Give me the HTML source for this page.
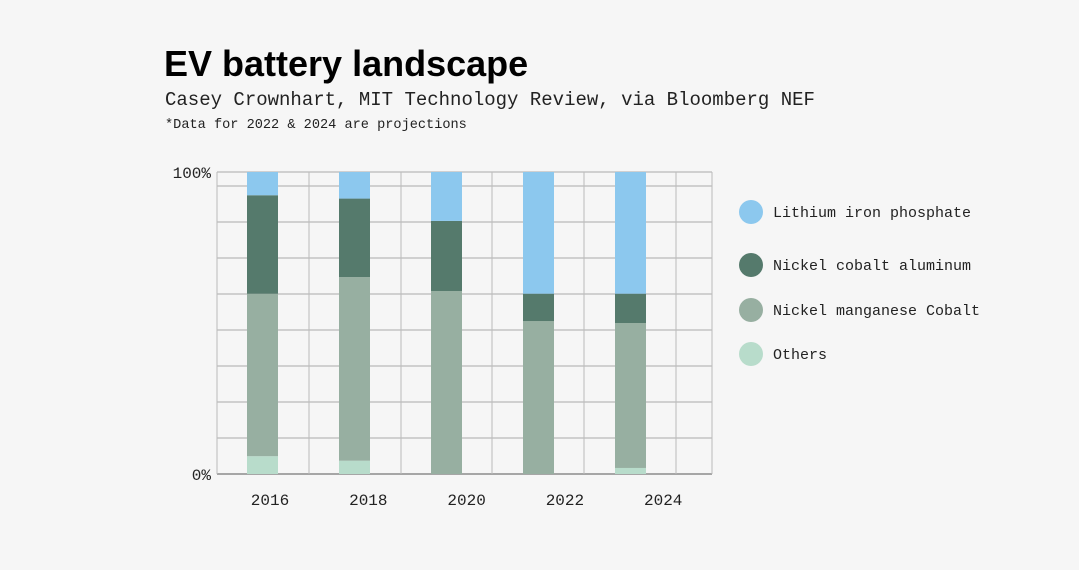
<!DOCTYPE html>
<html><head><meta charset="utf-8"><style>
body{margin:0;background:#f6f6f6;}
svg{display:block;}
.mono{font-family:"Liberation Mono",monospace;}
</style></head><body>
<svg width="1079" height="570" xmlns="http://www.w3.org/2000/svg">
<rect width="1079" height="570" fill="#f6f6f6"/>
<text x="164" y="76" font-family="Liberation Sans, sans-serif" font-weight="bold" font-size="36" fill="#000">EV battery landscape</text>
<text x="165" y="105" class="mono" font-size="19" fill="#222">Casey Crownhart, MIT Technology Review, via Bloomberg NEF</text>
<text x="165" y="128" class="mono" font-size="13.6" fill="#222">*Data for 2022 &amp; 2024 are projections</text>
<g id="grid"></g>
<g id="bars"></g>
<g id="xlabels"></g>
<text x="211" y="178" text-anchor="end" class="mono" font-size="16" fill="#222">100%</text>
<text x="211" y="480" text-anchor="end" class="mono" font-size="16" fill="#222">0%</text>
<g id="legend"></g>
</svg>
<script>
const categories=["2016","2018","2020","2022","2024"];
const others=[5.9,4.4,0,0,2];
const nmc=[53.8,60.8,60.6,50.6,48];
const nca=[32.6,26,23.2,9.1,9.7];
const lfp=[7.7,8.8,16.2,40.3,40.3];
const seriesNames=["Lithium iron phosphate","Nickel cobalt aluminum","Nickel manganese Cobalt","Others"];
const NS="http://www.w3.org/2000/svg";
const y0=474,y1=172,left=217,right=712;
function y(v){return y0-(v/100)*(y0-y1);}
function bx(i){return 247+i*92;}
function mk(t,a){const e=document.createElementNS(NS,t);for(const k in a)e.setAttribute(k,a[k]);return e;}
const grid=document.getElementById('grid');
[172,186,222,258,294,330,366,402,438,474].forEach(gy=>{
 const l=mk('line',{x1:left,x2:right,y1:gy,y2:gy,stroke:gy==474?'#555':'#aaa','stroke-width':1});
 
 
 grid.appendChild(l);});
[217,309,401,492,584,676,712].forEach(gx=>{
 const l=mk('line',{x1:gx,x2:gx,y1:172,y2:474,stroke:'#bbb','stroke-width':1});
 
 
 grid.appendChild(l);});
const bars=document.getElementById('bars');
const stack=[[others,'#b8dccb','others'],[nmc,'#97afa1','nmc'],[nca,'#557a6c','nca'],[lfp,'#8cc8ee','lfp']];
categories.forEach((c,i)=>{
 let base=0;
 stack.forEach(([arr,col,nm])=>{
  const v=arr[i];
  if(v>0){
   const r=mk('rect',{x:bx(i),width:31,y:y(base+v),height:y(base)-y(base+v),fill:col});
   
   
   bars.appendChild(r);}
  base+=v;});
 const t=mk('text',{x:270+i*98.3,y:505,'text-anchor':'middle',class:'mono','font-size':16,fill:'#222'});
 t.textContent=c;
 
 
 document.getElementById('xlabels').appendChild(t);
});
const leg=document.getElementById('legend');
const lcols=['#8cc8ee','#557a6c','#97afa1','#b8dccb'];
const ly=[212,265,310,354];
seriesNames.forEach((n,i)=>{
 const c=mk('circle',{cx:751,cy:ly[i],r:12,fill:lcols[i]});
 
 
 leg.appendChild(c);
 const t=mk('text',{x:773,y:ly[i]+5,class:'mono','font-size':15,fill:'#222'});
 t.textContent=n;
 
 
 leg.appendChild(t);
});
</script>
</body></html>
